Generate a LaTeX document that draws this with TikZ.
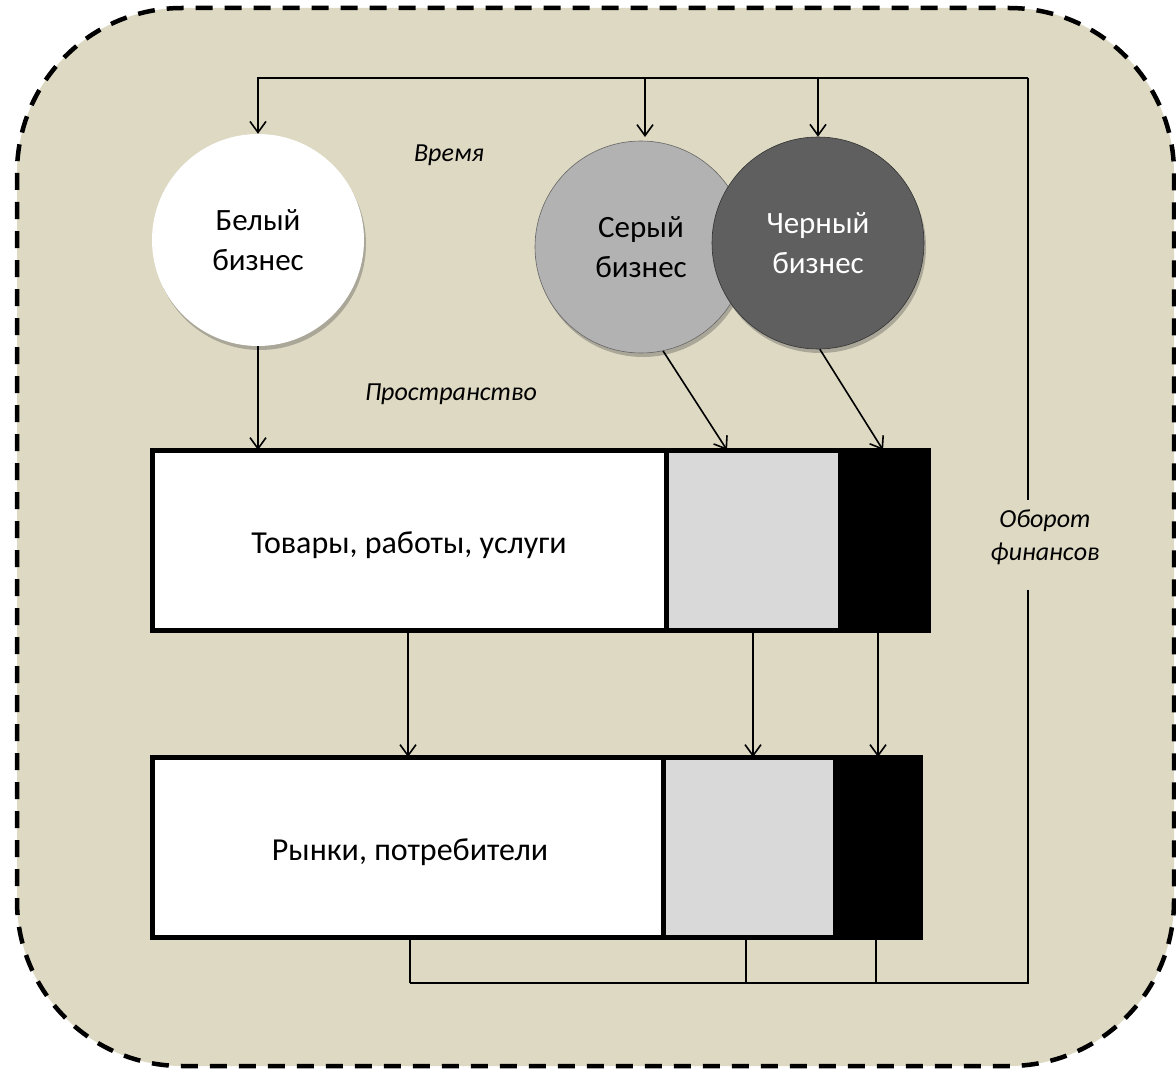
\documentclass[tikz,border=0pt]{standalone}
\usepackage{fontspec}
\setmainfont{Carlito}
\usetikzlibrary{arrows.meta,shadows}
\definecolor{bgtan}{HTML}{DDD9C3}
\definecolor{graycirc}{HTML}{B2B2B2}
\definecolor{darkcirc}{HTML}{5F5F5F}
\definecolor{grayseg}{HTML}{D9D9D9}
\tikzset{
  conn/.style={line width=1.6pt, draw=black},
  arr/.style={conn, -{Straight Barb[length=11pt,width=16pt,line width=1.6pt]}},
  biz/.style={circle, minimum size=212pt, inner sep=0pt, align=center,
    font=\fontsize{31}{40}\selectfont,
    drop shadow={shadow xshift=2pt, shadow yshift=-4pt, opacity=0.35, fill=black!70}},
  seg/.style={rectangle, inner sep=0pt, anchor=north west, minimum height=180pt},
  lbl/.style={font=\fontsize{26}{33}\selectfont\itshape, align=center},
  big/.style={font=\fontsize{32}{36}\selectfont}
}
\begin{document}
\begin{tikzpicture}[x=1pt,y=-1pt]
\useasboundingbox (0,0) rectangle (1176,1070);
% background frame
\draw[fill=bgtan, line width=4.5pt, dash pattern=on 17pt off 12pt, rounded corners=165pt]
  (17,8) rectangle (1174,1066);

% circles
\node[biz, fill=white] (wb) at (258,240) {Белый\\бизнес};
\node[biz, fill=graycirc, draw=gray!80!black, line width=0.6pt] (gb) at (641,247) {Серый\\бизнес};
\node[biz, fill=darkcirc, draw=black!80, line width=0.6pt, text=white] (bb) at (818,243) {Черный\\бизнес};

% labels
\node[lbl] (time) at (449,155) {Время};
\node[lbl] (space) at (451,394) {Пространство};
\node[lbl] (fin) at (1045,537) {Оборот\\финансов};

% goods bar
\node[seg, fill=white, minimum width=514pt] (g1) at (152,450) {};
\node[seg, fill=grayseg, minimum width=172pt] (g2) at (666,450) {};
\node[seg, fill=black, minimum width=90pt] (g3) at (838,450) {};
\draw[line width=5pt] (g1.north west) rectangle (g3.south east);
\draw[line width=5pt] (g1.north east) -- (g1.south east);
\node[big] (gtext) at (409,545) {Товары, работы, услуги};

% markets bar
\node[seg, fill=white, minimum width=511pt] (m1) at (152,757) {};
\node[seg, fill=grayseg, minimum width=170pt] (m2) at (663,757) {};
\node[seg, fill=black, minimum width=87pt] (m3) at (833,757) {};
\draw[line width=5pt] (m1.north west) rectangle (m3.south east);
\draw[line width=5pt] (m1.north east) -- (m1.south east);
\node[big] (mtext) at (410,852) {Рынки, потребители};

% coordinates
\coordinate (tl) at (258,78);
\coordinate (tr) at (1028,78);
\coordinate (finT) at (1028,500);
\coordinate (finB) at (1028,590);
\coordinate (br) at (1028,983);
\coordinate (bl) at (410,983);
\coordinate (gtop) at (727,450);
\coordinate (btop) at (883,450);
\coordinate (gin) at (645,78);
\coordinate (gend) at (645,137);

% top feed
\draw[conn] (tr) -- (finT);
\draw[conn] (finB) -- (br) -- (bl);
\draw[arr] (tr) -- (tl) -- (wb.north);
\draw[arr] (gin) -- (gend);
\draw[arr] (bb.north |- tr) -- (bb.north);

% circles to goods
\draw[arr] (wb.south) -- (wb.south |- g1.north);
\draw[arr] (gb.-78) -- (gtop);
\draw[arr] (bb.-89) -- (btop);

% goods to markets
\draw[arr] (408,632) -- (408,757);
\draw[arr] (753,632) -- (753,757);
\draw[arr] (878,632) -- (878,757);

% markets to bottom line
\draw[conn] (bl) -- (410,937);
\draw[conn] (746,983) -- (746,937);
\draw[conn] (876,983) -- (876,937);
\end{tikzpicture}
\end{document}
